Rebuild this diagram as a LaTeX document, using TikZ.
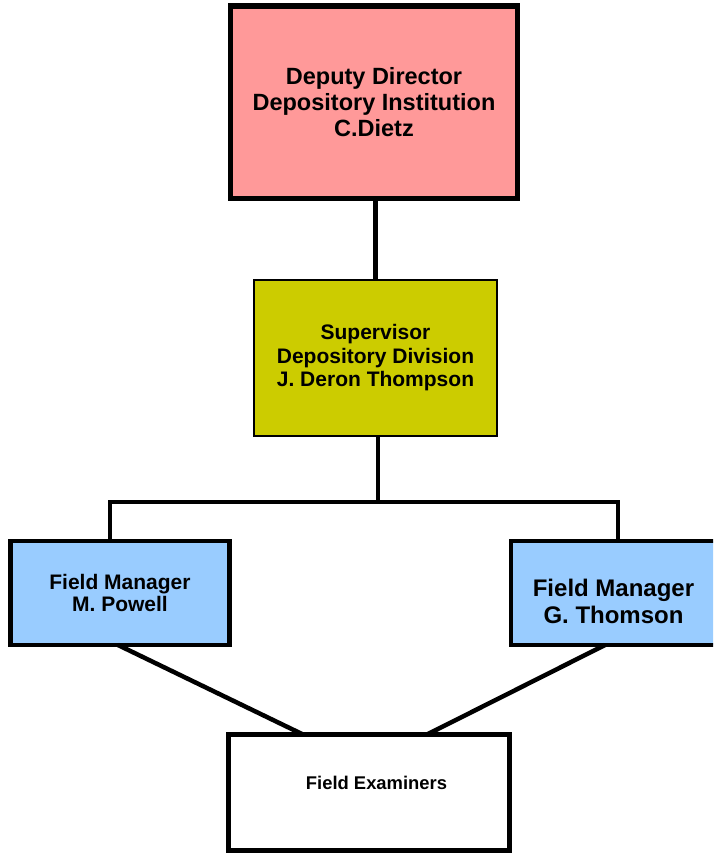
\documentclass[tikz,border=0pt]{standalone}
\usepackage{fontspec}
\setmainfont{Liberation Sans}
\usetikzlibrary{calc}
\definecolor{pinkbox}{HTML}{FF9999}
\definecolor{olivebox}{HTML}{CCCC00}
\definecolor{bluebox}{HTML}{99CCFF}
\tikzset{
  box/.style={draw=black, rectangle, inner sep=0pt, outer sep=0pt, align=center, font=\bfseries},
  conn/.style={draw=black, line width=4.5pt},
  lbl/.style={inner sep=0pt, align=center, font=\bfseries}
}
\begin{document}
\begin{tikzpicture}[x=1pt, y=-1pt]
\useasboundingbox (0,0) rectangle (713,856);
\clip (0,0) rectangle (713,856);
\node[box, fill=pinkbox, line width=5.5pt, minimum width=287pt, minimum height=192.5pt,
      font=\bfseries\fontsize{23.5}{26}\selectfont] (top) at (374,102.25)
  {Deputy Director\\Depository Institution\\C.Dietz};
\node[box, fill=olivebox, line width=2.5pt, minimum width=243pt, minimum height=156pt,
      font=\bfseries\fontsize{21}{23.5}\selectfont] (sup) at (375.5,358)
  {Supervisor\\Depository Division\\J. Deron Thompson};
\node[box, fill=bluebox, line width=4.5pt, minimum width=219pt, minimum height=104pt,
      font=\bfseries\fontsize{21}{22.5}\selectfont] (lm) at (120,593)
  {Field Manager\\M. Powell};
\node[box, fill=bluebox, line width=4.5pt, minimum width=205pt, minimum height=104pt] (rm) at (613.5,593) {};
\node[lbl, font=\bfseries\fontsize{24}{27}\selectfont] (rmT) at (613.5,601) {Field Manager\\G. Thomson};
\node[box, fill=white, line width=5pt, minimum width=281pt, minimum height=116.5pt] (fe) at (369,792.25) {};
\node[lbl, font=\bfseries\fontsize{18.4}{21}\selectfont] (feT) at (376.5,782.5) {Field Examiners};
\coordinate (bus) at (378,502);
\coordinate (busL) at (110,502);
\coordinate (busR) at (618,502);
\draw[conn] (top.south -| sup.north) -- (sup.north);
\draw[conn] (bus |- sup.south) -- (bus);
\draw[conn] (busL |- lm.north) -- (busL) -- (busR) -- (busR |- rm.north);
\draw[conn] ($(lm.south)+(-2,0)$) -- ($(fe.north)+(-67,0)$);
\draw[conn] ($(rm.south)+(-8.5,0)$) -- ($(fe.north)+(59,0)$);
\end{tikzpicture}
\end{document}
